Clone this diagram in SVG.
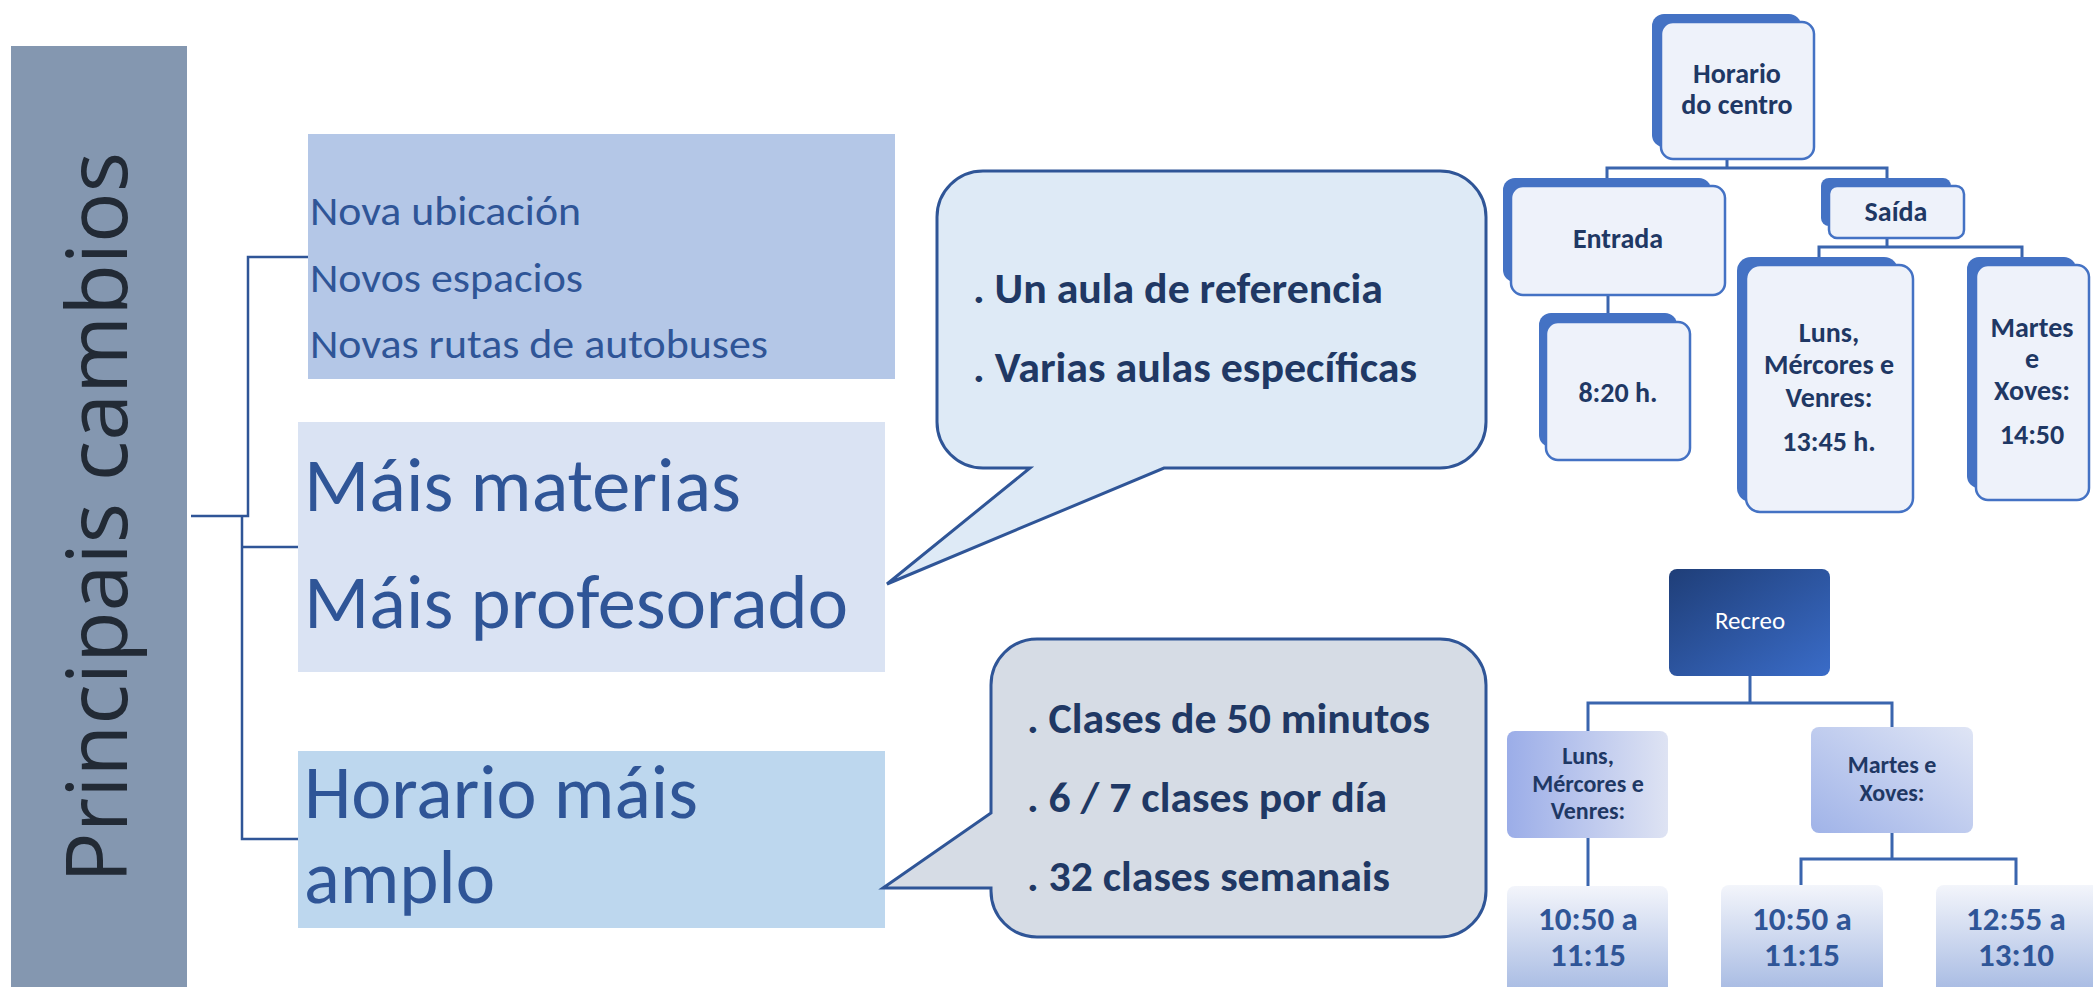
<svg xmlns="http://www.w3.org/2000/svg" width="2093" height="987" viewBox="0 0 2093 987">
<defs>
<linearGradient id="gRecreo" x1="0" y1="0" x2="1" y2="1"><stop offset="0" stop-color="#1F3E78"/><stop offset="1" stop-color="#3A6CC8"/></linearGradient>
<linearGradient id="gLuns" x1="0" y1="0" x2="1" y2="0"><stop offset="0" stop-color="#9BADE8"/><stop offset="1" stop-color="#DEE3F3"/></linearGradient>
<linearGradient id="gMartes" x1="0" y1="1" x2="1" y2="0"><stop offset="0" stop-color="#A0B3E8"/><stop offset="1" stop-color="#DFE5F5"/></linearGradient>
<linearGradient id="gTime" x1="0" y1="0" x2="0" y2="1"><stop offset="0" stop-color="#F3F5FB"/><stop offset="1" stop-color="#A5B9E2"/></linearGradient>
<style>
.calibri{font-family:Carlito,"Open Sans","Liberation Sans",sans-serif}
.box1{font-size:40px;fill:#2F5597}
.big{font-size:76px;fill:#2F5597}
.bul{font-size:42px;font-weight:bold;fill:#203864}
.card-back{fill:#4472C4}
.card-front{fill:#EEF2FA;stroke:#4472C4;stroke-width:2.5}
.ct{font-size:28px;font-weight:bold;fill:#1F3864;text-anchor:middle}
.rt{font-size:24px;font-weight:bold;fill:#1F3864;text-anchor:middle}
.tt{font-size:33px;font-weight:bold;fill:#2F5597;text-anchor:middle}
.lconn{fill:none;stroke:#2F5597;stroke-width:2.5}
.rconn{fill:none;stroke:#3A65AE;stroke-width:3}
.callout{stroke:#2F5597;stroke-width:3}
</style>
</defs>

<g id="connectors">
<path class="lconn" d="M191,516 H248 V257 H308"/>
<path class="lconn" d="M242,516 V839 H298"/>
<path class="lconn" d="M242,547 H298"/>
<path class="rconn" d="M1727,159 V168 M1607,180 V168 H1887 V180"/>
<path class="rconn" d="M1608,295 V315"/>
<path class="rconn" d="M1887,238 V247 M1819,259 V247 H2022 V259"/>
<path class="rconn" d="M1750,676 V703 M1588,731 V703 H1892 V727"/>
<path class="rconn" d="M1588,838 V886"/>
<path class="rconn" d="M1892,833 V859 M1801,885 V859 H2016 V885"/>
</g>

<g id="principais">
<rect x="11" y="46" width="176" height="941" fill="#8497B0"/>
<text transform="translate(127,883) rotate(-90)" textLength="731" lengthAdjust="spacingAndGlyphs" font-family="'Open Sans','DejaVu Sans',sans-serif" font-size="85" fill="#222A35">Principais cambios</text>
</g>

<g id="nova">
<rect x="308" y="134" width="587" height="245" fill="#B4C7E7"/>
<text class="calibri box1" x="310" y="225" textLength="271" lengthAdjust="spacingAndGlyphs">Nova ubicación</text>
<text class="calibri box1" x="310" y="292" textLength="273" lengthAdjust="spacingAndGlyphs">Novos espacios</text>
<text class="calibri box1" x="310" y="358" textLength="458" lengthAdjust="spacingAndGlyphs">Novas rutas de autobuses</text>
</g>

<g id="mais">
<rect x="298" y="422" width="587" height="250" fill="#DAE3F3"/>
<text class="calibri big" x="304" y="511" textLength="437" lengthAdjust="spacingAndGlyphs">Máis materias</text>
<text class="calibri big" x="304" y="628" textLength="544" lengthAdjust="spacingAndGlyphs">Máis profesorado</text>
</g>

<g id="horario">
<rect x="298" y="751" width="587" height="177" fill="#BDD7EE"/>
<text class="calibri big" x="304" y="818" textLength="394" lengthAdjust="spacingAndGlyphs">Horario máis</text>
<text class="calibri big" x="304" y="903" textLength="191" lengthAdjust="spacingAndGlyphs">amplo</text>
</g>

<g id="callout-aulas">
<path class="callout" fill="#DEEAF6" d="M983,171 H1440 A46,46 0 0 1 1486,217 V422 A46,46 0 0 1 1440,468 H1164 L887,584 L1030,468 H983 A46,46 0 0 1 937,422 V217 A46,46 0 0 1 983,171 Z"/>
<text class="calibri bul" x="973" y="303" textLength="410" lengthAdjust="spacingAndGlyphs">. Un aula de referencia</text>
<text class="calibri bul" x="973" y="382" textLength="444" lengthAdjust="spacingAndGlyphs">. Varias aulas específicas</text>
</g>

<g id="callout-clases">
<path class="callout" fill="#D6DCE5" d="M1037,639 H1440 A46,46 0 0 1 1486,685 V891 A46,46 0 0 1 1440,937 H1037 A46,46 0 0 1 991,891 V888 L883,888 L991,813 V685 A46,46 0 0 1 1037,639 Z"/>
<text class="calibri bul" x="1027" y="733" textLength="403" lengthAdjust="spacingAndGlyphs">. Clases de 50 minutos</text>
<text class="calibri bul" x="1027" y="812" textLength="360" lengthAdjust="spacingAndGlyphs">. 6 / 7 clases por día</text>
<text class="calibri bul" x="1027" y="891" textLength="363" lengthAdjust="spacingAndGlyphs">. 32 clases semanais</text>
</g>

<g id="horario-centro">
<rect class="card-back" x="1652" y="14" width="149" height="133" rx="12"/>
<rect class="card-front" x="1661" y="22" width="153" height="137" rx="12"/>
<text class="calibri ct" x="1737" y="83">Horario</text>
<text class="calibri ct" x="1737" y="114">do centro</text>
</g>

<g id="entrada">
<rect class="card-back" x="1503" y="178" width="208" height="104" rx="12"/>
<rect class="card-front" x="1511" y="186" width="214" height="109" rx="12"/>
<text class="calibri ct" x="1618" y="248">Entrada</text>
</g>

<g id="entrada-hora">
<rect class="card-back" x="1539" y="313" width="138" height="134" rx="12"/>
<rect class="card-front" x="1546" y="322" width="144" height="138" rx="12"/>
<text class="calibri ct" x="1618" y="402">8:20 h.</text>
</g>

<g id="saida">
<rect class="card-back" x="1821" y="178" width="130" height="48" rx="8"/>
<rect class="card-front" x="1829" y="186" width="135" height="52" rx="8"/>
<text class="calibri ct" x="1896" y="221">Saída</text>
</g>

<g id="saida-lmv">
<rect class="card-back" x="1737" y="257" width="161" height="245" rx="14"/>
<rect class="card-front" x="1746" y="265" width="167" height="247" rx="14"/>
<text class="calibri ct" x="1829" y="342">Luns,</text>
<text class="calibri ct" x="1829" y="374">Mércores e</text>
<text class="calibri ct" x="1829" y="407">Venres:</text>
<text class="calibri ct" x="1829" y="451">13:45 h.</text>
</g>

<g id="saida-mx">
<rect class="card-back" x="1967" y="257" width="109" height="231" rx="12"/>
<rect class="card-front" x="1976" y="265" width="113" height="235" rx="12"/>
<text class="calibri ct" x="2032" y="337">Martes</text>
<text class="calibri ct" x="2032" y="368">e</text>
<text class="calibri ct" x="2032" y="400">Xoves:</text>
<text class="calibri ct" x="2032" y="444">14:50</text>
</g>

<g id="recreo">
<rect x="1669" y="569" width="161" height="107" rx="8" fill="url(#gRecreo)"/>
<text class="calibri" x="1750" y="629" font-size="25" fill="#FFFFFF" text-anchor="middle">Recreo</text>
</g>

<g id="recreo-lmv">
<rect x="1507" y="731" width="161" height="107" rx="8" fill="url(#gLuns)"/>
<text class="calibri rt" x="1588" y="764">Luns,</text>
<text class="calibri rt" x="1588" y="792">Mércores e</text>
<text class="calibri rt" x="1588" y="819">Venres:</text>
</g>

<g id="recreo-mx">
<rect x="1811" y="727" width="162" height="106" rx="8" fill="url(#gMartes)"/>
<text class="calibri rt" x="1892" y="773">Martes e</text>
<text class="calibri rt" x="1892" y="801">Xoves:</text>
</g>

<g id="time-1">
<rect x="1507" y="886" width="161" height="110" rx="8" fill="url(#gTime)"/>
<text class="calibri tt" x="1588" y="930">10:50 a</text>
<text class="calibri tt" x="1588" y="966">11:15</text>
</g>

<g id="time-2">
<rect x="1721" y="885" width="162" height="110" rx="8" fill="url(#gTime)"/>
<text class="calibri tt" x="1802" y="930">10:50 a</text>
<text class="calibri tt" x="1802" y="966">11:15</text>
</g>

<g id="time-3">
<rect x="1936" y="885" width="165" height="110" rx="8" fill="url(#gTime)"/>
<text class="calibri tt" x="2016" y="930">12:55 a</text>
<text class="calibri tt" x="2016" y="966">13:10</text>
</g>
</svg>
